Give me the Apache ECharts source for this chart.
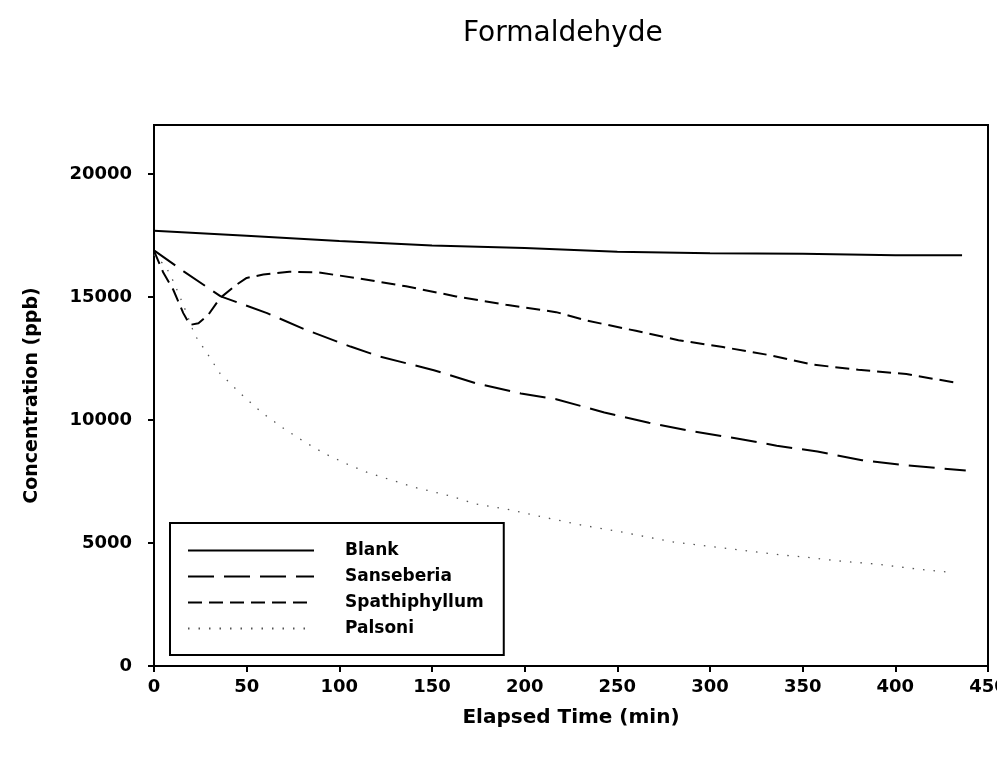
<!DOCTYPE html>
<html>
<head>
<meta charset="utf-8">
<script src="https://cdn.jsdelivr.net/npm/echarts@6/dist/echarts.min.js"></script>
<style>html,body{margin:0;padding:0;background:#fff;}#c{width:997px;height:761px;}</style>
</head>
<body>
<div id="c"></div>
<script>
const titleText = 'Formaldehyde';
const xName = 'Elapsed Time (min)';
const yName = 'Concentration (ppb)';
const seriesNames = ['Blank', 'Sanseberia', 'Spathiphyllum', 'Palsoni'];
const yTicks = [0, 5000, 10000, 15000, 20000];

const blankT = [0, 50, 100, 150, 200, 250, 300, 350, 400, 436];
const blankV = [17700, 17500, 17280, 17100, 17000, 16850, 16780, 16760, 16700, 16700];

const sanT = [0, 16, 36, 61, 82, 106, 122, 151, 174, 198, 217, 243, 267, 290, 313, 336, 358, 382, 406, 438];
const sanV = [16900, 16050, 15030, 14350, 13670, 12990, 12580, 12030, 11490, 11080, 10850, 10310, 9890, 9550, 9270, 8960, 8720, 8370, 8160, 7950];

const spaT = [0, 5, 10.4, 15.8, 19.4, 24, 29.3, 35.6, 44.6, 50, 59, 73, 88, 109, 136, 163, 190, 217, 234, 260, 283, 307, 333, 356, 380, 406, 435];
const spaV = [16880, 16000, 15300, 14350, 13870, 13940, 14280, 14960, 15510, 15780, 15920, 16030, 16010, 15780, 15440, 15030, 14690, 14390, 14040, 13630, 13250, 12970, 12630, 12250, 12050, 11870, 11490];

const palT = [0, 2.4, 5.9, 10.4, 15.8, 22, 29.3, 35.6, 46.4, 52.7, 59, 70.7, 81.5, 92.3, 104, 114.8, 126.5, 140.9, 159.7, 174, 190.3, 206, 230, 249.4, 265, 279.5, 295, 318, 338, 351, 371, 389, 412, 431];
const palV = [16730, 16500, 16320, 15650, 14690, 13460, 12640, 11900, 11100, 10670, 10260, 9620, 9100, 8630, 8220, 7880, 7600, 7260, 6920, 6580, 6380, 6120, 5740, 5490, 5260, 5050, 4910, 4700, 4520, 4430, 4260, 4150, 3940, 3800];

function pairs(t, v) { return t.map((x, i) => [x, v[i]]); }

const FONT = 'DejaVu Sans';
const chart = echarts.init(document.getElementById('c'), null, {renderer: 'canvas'});
chart.setOption({
  animation: false,
  backgroundColor: '#ffffff',
  title: {
    text: titleText,
    left: 458, top: 15,
    textStyle: {fontFamily: FONT, fontSize: 28, fontWeight: 'normal', color: '#000'}
  },
  grid: {
    left: 154, right: 9, top: 125, bottom: 95,
    outerBoundsMode: 'none', containLabel: false,
    show: true, borderColor: '#000', borderWidth: 2, backgroundColor: 'transparent'
  },
  legend: {
    orient: 'vertical',
    left: 170, top: 523,
    padding: [19, 20, 18, 17],
    itemWidth: 126, itemHeight: 14, itemGap: 9,
    borderColor: '#000', borderWidth: 2,
    backgroundColor: '#fff',
    itemStyle: {opacity: 0, borderWidth: 0},
    data: seriesNames,
    textStyle: {fontFamily: FONT, fontSize: 17, fontWeight: 'bold', color: '#000', padding: [0, 0, 0, 26]}
  },
  xAxis: {
    type: 'value', min: 0, max: 450, interval: 50,
    name: xName, nameLocation: 'middle', nameGap: 42,
    nameTextStyle: {fontFamily: FONT, fontSize: 20, fontWeight: 'bold', color: '#000'},
    axisLine: {lineStyle: {color: '#000', width: 2}},
    axisTick: {inside: false, length: 6, lineStyle: {color: '#000', width: 2}},
    axisLabel: {margin: 12, fontFamily: FONT, fontSize: 18, fontWeight: 'bold', color: '#000',
      formatter: v => String(v)},
    splitLine: {show: false}
  },
  yAxis: {
    type: 'value', min: 0, max: 22000,
    name: yName, nameLocation: 'middle', nameGap: 112, nameRotate: 90,
    nameTextStyle: {fontFamily: FONT, fontSize: 19, fontWeight: 'bold', color: '#000'},
    axisLine: {lineStyle: {color: '#000', width: 2}},
    axisTick: {inside: false, length: 6, customValues: yTicks, lineStyle: {color: '#000', width: 2}},
    axisLabel: {margin: 22, customValues: yTicks, fontFamily: FONT, fontSize: 18, fontWeight: 'bold', color: '#000',
      formatter: v => String(v)},
    splitLine: {show: false}
  },
  series: [
    {name: seriesNames[0], type: 'line', symbol: 'none', data: pairs(blankT, blankV),
     lineStyle: {color: '#000', width: 2, type: 'solid'}, itemStyle: {color: '#000'}},
    {name: seriesNames[1], type: 'line', symbol: 'none', data: pairs(sanT, sanV),
     lineStyle: {color: '#000', width: 2, type: [26, 10]}, itemStyle: {color: '#000'}},
    {name: seriesNames[2], type: 'line', symbol: 'none', data: pairs(spaT, spaV),
     lineStyle: {color: '#000', width: 2, type: [14, 7]}, itemStyle: {color: '#000'}},
    {name: seriesNames[3], type: 'line', symbol: 'none', data: pairs(palT, palV),
     lineStyle: {color: '#555', width: 1.3, type: [1.5, 9]}, itemStyle: {color: '#555'}}
  ]
});
</script>
</body>
</html>
